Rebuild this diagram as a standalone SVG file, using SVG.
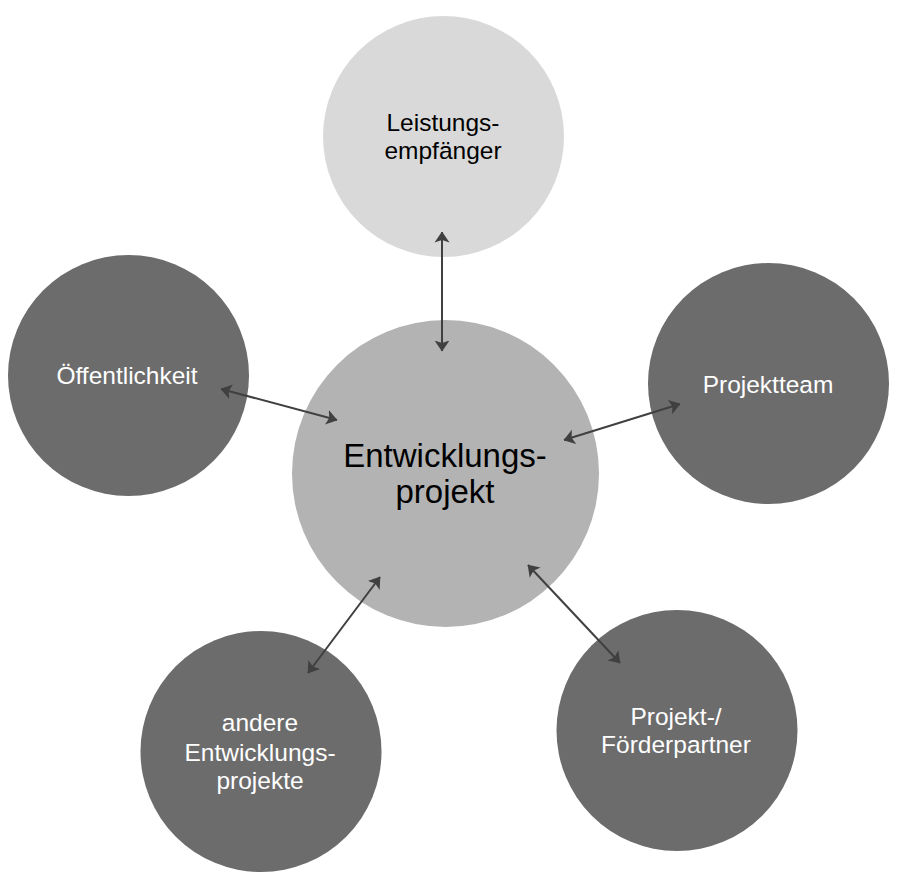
<svg xmlns="http://www.w3.org/2000/svg" width="900" height="886" viewBox="0 0 900 886">
<defs>
<marker id="ah" viewBox="0 0 11 16" refX="10.5" refY="8" markerWidth="11" markerHeight="16" markerUnits="userSpaceOnUse" orient="auto-start-reverse">
<path d="M0,0.5 L11,8 L0,15.5 L2.5,8 z" fill="#404040"/>
</marker>
</defs>
<style>
text{font-family:"Liberation Sans",Arial,sans-serif;text-anchor:middle;}
.dark{fill:#6c6c6c;}
.lt{fill:#fff;font-size:24.5px;}
.bk{fill:#000;font-size:24.5px;}
.conn line{stroke:#404040;stroke-width:2;marker-start:url(#ah);marker-end:url(#ah);}
</style>
<rect width="900" height="886" fill="#fff"/>
<g id="leistungsempfaenger">
<circle cx="443.5" cy="136.5" r="120.5" fill="#d9d9d9"/>
<text class="bk" x="443" y="131">Leistungs-</text>
<text class="bk" x="443" y="159">empfänger</text>
</g>
<g id="oeffentlichkeit">
<circle class="dark" cx="128.5" cy="375.5" r="120.5"/>
<text class="lt" x="127" y="384">Öffentlichkeit</text>
</g>
<g id="projektteam">
<circle class="dark" cx="768.5" cy="383.5" r="120.5"/>
<text class="lt" x="768" y="393">Projektteam</text>
</g>
<g id="andere">
<circle class="dark" cx="261" cy="751.5" r="120.5"/>
<text class="lt" x="260" y="731">andere</text>
<text class="lt" x="260" y="761">Entwicklungs-</text>
<text class="lt" x="260" y="789">projekte</text>
</g>
<g id="foerderpartner">
<circle class="dark" cx="677" cy="730.5" r="120.5"/>
<text class="lt" x="676" y="725">Projekt-/</text>
<text class="lt" x="676" y="753">Förderpartner</text>
</g>
<g id="entwicklungsprojekt">
<circle cx="445.5" cy="473.5" r="153.5" fill="#b3b3b3"/>
<text x="445" y="467" style="font-size:33px;fill:#000">Entwicklungs-</text>
<text x="445" y="503" style="font-size:33px;fill:#000">projekt</text>
</g>
<g id="connectors" class="conn">
<line x1="442" y1="232" x2="442" y2="351"/>
<line x1="221" y1="389" x2="337" y2="420"/>
<line x1="564" y1="440" x2="680" y2="404"/>
<line x1="380" y1="577" x2="308" y2="673"/>
<line x1="528" y1="565" x2="620" y2="663"/>
</g>
</svg>
